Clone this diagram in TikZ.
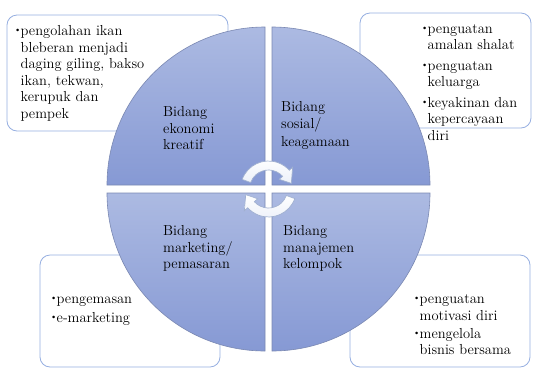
\documentclass[tikz,border=0pt]{standalone}
\usepackage{tikz}
\usetikzlibrary{positioning}

\definecolor{quadTop}{RGB}{172,186,226}
\definecolor{quadBot}{RGB}{134,153,212}
\definecolor{quadLine}{RGB}{122,136,178}
\definecolor{boxLine}{RGB}{150,175,225}
\definecolor{turnLine}{RGB}{160,176,208}
\definecolor{turnFill}{RGB}{236,240,249}

\newcommand{\itm}{\rule{0pt}{10pt}\makebox[6.5pt][l]{\raisebox{3pt}{\fontsize{9}{9}\selectfont\textbullet}}}
\newcommand{\ind}{\hspace*{6.5pt}}

\begin{document}
\begin{tikzpicture}[
      x=1pt, y=-1pt,
      panel/.style={draw=boxLine, fill=white, rounded corners=10pt, line width=0.8pt},
      quad/.style={draw=quadLine, line width=0.6pt, top color=quadTop, bottom color=quadBot},
      turn/.style={draw=turnLine, line width=0.7pt, top color=white, bottom color=turnFill},
      txt/.style={align=left, anchor=north west, inner sep=0pt, font=\fontsize{14.5}{16.5}\selectfont}
    ]
    \useasboundingbox (0,0) rectangle (533,368);

    % boxes behind the circle
    \draw [panel] (7,15) rectangle (228,131);
    \draw [panel] (360,13) rectangle (531,128);
    \draw [panel] (40,255) rectangle (220,367);
    \draw [panel] (350,255) rectangle (530,367);

    % four quarters
    \draw [quad] (265,185) -- ++(180:158) arc[start angle=180, end angle=270, radius=158] -- cycle;
    \draw [quad] (272,185) -- ++(270:158) arc[start angle=270, end angle=360, radius=158] -- cycle;
    \draw [quad] (272,193) -- ++(0:158) arc[start angle=0, end angle=90, radius=158] -- cycle;
    \draw [quad] (265,193) -- ++(90:158) arc[start angle=90, end angle=180, radius=158] -- cycle;

    % quarter labels
    \node(ekoLbl)[txt] at (163,106.5) {Bidang\\ekonomi\\kreatif};
    \node(sosLbl)[txt] at (281,101.5) {Bidang\\sosial/\\[2pt]keagamaan};
    \node(mktLbl)[txt] at (163,225.5) {Bidang\\marketing/\\pemasaran};
    \node(manLbl)[txt] at (283,225.5) {Bidang\\manajemen\\kelompok};

    % box texts
    \node(ekoTxt)[txt] at (14,25.5) {\itm pengolahan ikan\\\ind bleberan menjadi\\\ind daging giling, bakso\\\ind ikan, tekwan,\\\ind kerupuk dan\\\ind pempek};
    \node(sosTxt)[txt] at (421,23) {\itm penguatan\\\ind amalan shalat\\[4pt]\itm penguatan\\\ind keluarga\\[4pt]\itm keyakinan dan\\\ind kepercayaan\\\ind diri};
    \node(mktTxt)[txt] at (50,293.5) {\itm pengemasan\\[2pt]\itm e-marketing};
    \node(manTxt)[txt] at (413,293.5) {\itm penguatan\\\ind motivasi diri\\[1.5pt]\itm mengelola\\\ind bisnis bersama};

    % turning arrows in the middle
    \foreach \r in {0,180} {
      \begin{scope}[shift={(268.5,189)}, rotate=\r]
        \draw [turn] (200:28) arc[start angle=200, end angle=318, radius=28]
          -- (318:32.5) -- (346:23.5) -- (318:14.5) -- (318:19)
          arc[start angle=318, end angle=200, radius=19] -- cycle;
      \end{scope}
    }
\end{tikzpicture}
\end{document}
